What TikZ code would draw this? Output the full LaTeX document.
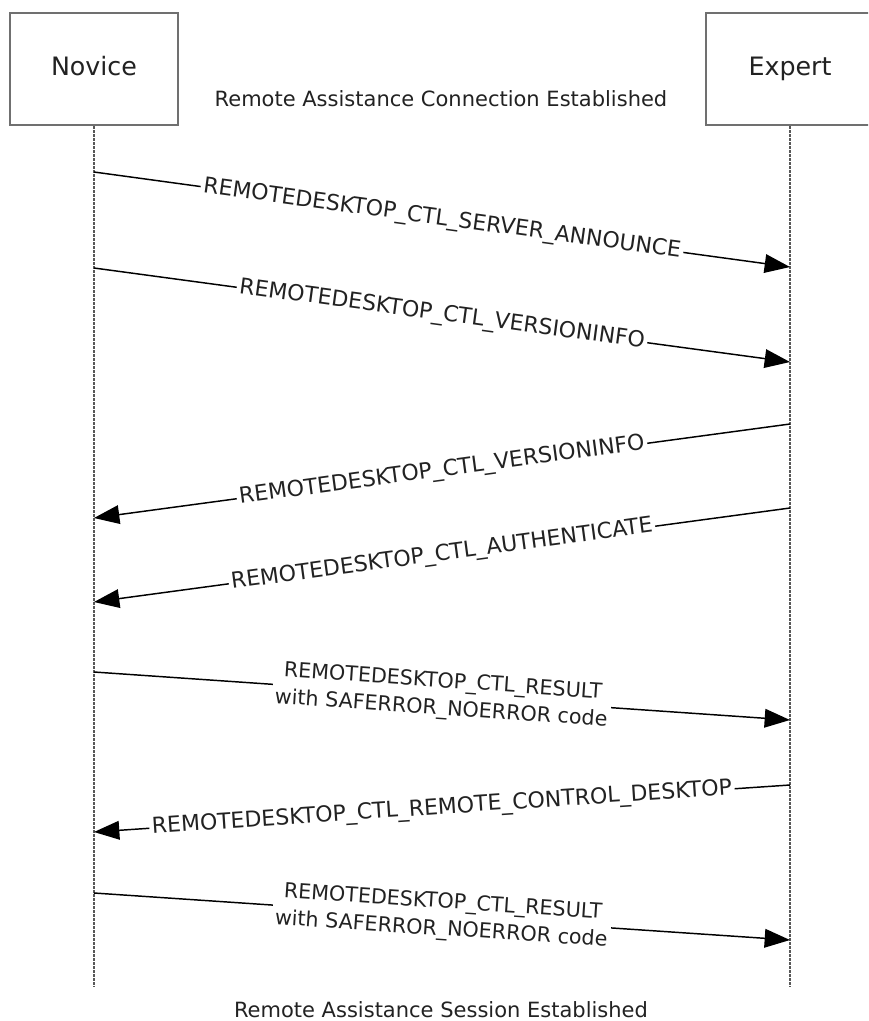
\documentclass[tikz,border=0pt]{standalone}
\usepackage{fontspec}
\setmainfont{DejaVu Sans}
\usetikzlibrary{arrows.meta}
\definecolor{boxgray}{HTML}{707070}
\definecolor{dotgray}{HTML}{585858}
\definecolor{txt}{HTML}{222222}
\tikzset{
  actor/.style={draw=boxgray, line width=1.9pt, fill=white, minimum width=126pt, minimum height=84pt,
    text=txt, font=\fontsize{19}{22}\selectfont, inner sep=0pt, text height=14pt, text depth=4pt},
  lifeline/.style={draw=dotgray, line width=1.9pt, dash pattern=on 1.7pt off 1.3pt},
  msg/.style={draw=black, line width=1.1pt, -{Triangle[length=19pt,width=14pt]}},
  lbl/.style={sloped, fill=white, text=txt, inner sep=2pt, align=center,
    font=\fontsize{16.5}{19}\selectfont},
  lbltwo/.style={lbl, font=\fontsize{15.5}{20.5}\selectfont},
  note/.style={text=txt, font=\fontsize{15.75}{18}\selectfont, inner sep=0pt}
}
\begin{document}
\begin{tikzpicture}[x=0.75pt, y=-0.75pt]
\useasboundingbox (0,0) rectangle (868,1021);
\clip (0,0) rectangle (868,1021);
% actors
\node[actor] (nov) at (94,69) {Novice};
\node[actor] (exp) at (790,69) {Expert};
\node[note] (conn) at (441,99) {Remote Assistance Connection Established};
% lifelines
\coordinate (nend) at (94,987);
\coordinate (eend) at (790,987);
\draw[lifeline] (nov.south) -- (nend);
\draw[lifeline] (exp.south) -- (eend);
% message end points
\coordinate (n1) at (94,172);  \coordinate (e1) at (790,267);
\coordinate (n2) at (94,268);  \coordinate (e2) at (790,362);
\coordinate (e3) at (790,424); \coordinate (n3) at (94,518);
\coordinate (e4) at (790,508); \coordinate (n4) at (94,602);
\coordinate (n5) at (94,672);  \coordinate (e5) at (790,720);
\coordinate (e6) at (790,785); \coordinate (n6) at (94,832);
\coordinate (n7) at (94,893);  \coordinate (e7) at (790,940);
% messages
\draw[msg] (n1) -- node[lbl] (m1) {REMOTEDESKTOP\_CTL\_SERVER\_ANNOUNCE} (e1);
\draw[msg] (n2) -- node[lbl] (m2) {REMOTEDESKTOP\_CTL\_VERSIONINFO} (e2);
\draw[msg] (e3) -- node[lbl] (m3) {REMOTEDESKTOP\_CTL\_VERSIONINFO} (n3);
\draw[msg] (e4) -- node[lbl] (m4) {REMOTEDESKTOP\_CTL\_AUTHENTICATE} (n4);
\draw[msg] (n5) -- node[lbltwo] (m5) {REMOTEDESKTOP\_CTL\_RESULT\\with SAFERROR\_NOERROR code} (e5);
\draw[msg] (e6) -- node[lbl] (m6) {REMOTEDESKTOP\_CTL\_REMOTE\_CONTROL\_DESKTOP} (n6);
\draw[msg] (n7) -- node[lbltwo] (m7) {REMOTEDESKTOP\_CTL\_RESULT\\with SAFERROR\_NOERROR code} (e7);
% footer
\node[note] (sess) at (441,1010) {Remote Assistance Session Established};
\end{tikzpicture}
\end{document}
